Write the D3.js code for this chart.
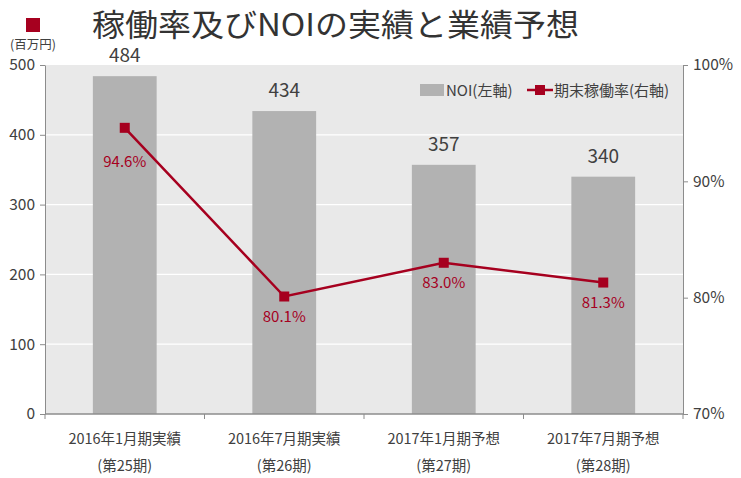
<!DOCTYPE html>
<html><head><meta charset="utf-8">
<script src="https://cdn.jsdelivr.net/npm/d3@7"></script>
<style>body{margin:0;background:#fff;} text{font-family:"Noto Sans CJK JP","Noto Sans",sans-serif;}</style>
</head><body><svg id="c" width="741" height="478"></svg>
<script>
const categories = ["2016年1月期実績","2016年7月期実績","2017年1月期予想","2017年7月期予想"];
const periods = ["(第25期)","(第26期)","(第27期)","(第28期)"];
const noi = [484, 434, 357, 340];
const occupancy = [94.6, 80.1, 83.0, 81.3];
const leftTicks = [0,100,200,300,400,500];
const rightTicks = [70,80,90,100];

const svg = d3.select("#c");
const m = {l:45, r:683, t:65, b:414};
const x = d3.scaleBand().domain(categories).range([m.l, m.r]).paddingInner(0.6).paddingOuter(0.3);
const xb = d3.scaleBand().domain(categories).range([m.l, m.r]);
const yL = d3.scaleLinear().domain([0,500]).range([m.b, m.t]);
const yR = d3.scaleLinear().domain([70,100]).range([m.b, m.t]);
const txt = "#404040", red = "#a6001f";

// title
svg.append("rect").attr("x",26).attr("y",18).attr("width",14).attr("height",14).attr("fill",red);
svg.append("text").attr("x",92).attr("y",36).attr("font-size",31).attr("fill","#333")
  .attr("textLength",487).attr("lengthAdjust","spacingAndGlyphs").text("稼働率及びNOIの実績と業績予想");
svg.append("text").attr("x",10).attr("y",49).attr("font-size",12.5).attr("fill",txt).text("(百万円)");

// plot bg
svg.append("rect").attr("x",m.l).attr("y",m.t).attr("width",m.r-m.l).attr("height",m.b-m.t).attr("fill","#e9e9e9");
// grid
svg.append("g").selectAll("line").data(leftTicks.filter(d=>d>0&&d<500)).join("line")
  .attr("x1",m.l).attr("x2",m.r).attr("y1",d=>yL(d)).attr("y2",d=>yL(d)).attr("stroke","#fff").attr("stroke-width",1.3);

// bars
svg.append("g").selectAll("rect").data(noi).join("rect")
  .attr("x",(d,i)=>x(categories[i])).attr("width",x.bandwidth())
  .attr("y",d=>yL(d)).attr("height",d=>m.b-yL(d)).attr("fill","#b2b2b2");
svg.append("g").selectAll("text").data(noi).join("text")
  .attr("x",(d,i)=>x(categories[i])+x.bandwidth()/2).attr("y",d=>yL(d)-14)
  .attr("text-anchor","middle").attr("font-size",19).attr("font-family","'Noto Sans',sans-serif").attr("fill",txt).text(d=>d);

// axes
const axL = svg.append("g").attr("transform",`translate(${m.l},0)`).call(d3.axisLeft(yL).tickValues(leftTicks).tickSize(5).tickSizeOuter(0));
const axR = svg.append("g").attr("transform",`translate(${m.r},0)`).call(d3.axisRight(yR).tickValues(rightTicks).tickFormat(d=>d+"%").tickSize(5).tickSizeOuter(0));
[axL,axR].forEach(a=>{a.selectAll("path,line").attr("stroke","#8c8c8c");a.selectAll("text").attr("font-size",15.5).attr("fill",txt).attr("font-family","'Noto Sans CJK JP',sans-serif");});
axR.selectAll("text").attr("x",10);
axL.selectAll("text").attr("x",-10);
svg.append("line").attr("x1",m.l).attr("x2",m.r).attr("y1",m.b).attr("y2",m.b).attr("stroke","#8c8c8c").attr("stroke-width",1.5);
// x ticks at band boundaries
const bounds = categories.map(c=>xb(c)).concat([m.r]);
svg.append("g").selectAll("line").data(bounds).join("line")
  .attr("x1",d=>d).attr("x2",d=>d).attr("y1",m.b).attr("y2",m.b+5).attr("stroke","#8c8c8c");
const xl = svg.append("g");
xl.selectAll("text.c").data(categories).join("text").attr("class","c")
  .attr("x",d=>xb(d)+xb.bandwidth()/2).attr("y",444).attr("text-anchor","middle").attr("font-size",14.5).attr("fill",txt).text(d=>d);
xl.selectAll("text.p").data(periods).join("text").attr("class","p")
  .attr("x",(d,i)=>xb(categories[i])+xb.bandwidth()/2).attr("y",471).attr("text-anchor","middle").attr("font-size",14.5).attr("fill",txt).text(d=>d);

// line
const cx = i=>x(categories[i])+x.bandwidth()/2;
svg.append("path").datum(occupancy).attr("fill","none").attr("stroke",red).attr("stroke-width",2.5)
  .attr("d",d3.line().x((d,i)=>cx(i)).y(d=>yR(d)));
svg.append("g").selectAll("rect").data(occupancy).join("rect")
  .attr("x",(d,i)=>cx(i)-5).attr("y",d=>yR(d)-5).attr("width",10).attr("height",10).attr("fill",red);
svg.append("g").selectAll("text").data(occupancy).join("text")
  .attr("x",(d,i)=>cx(i)).attr("y",(d,i)=>yR(d)+(i===0?39:25)).attr("text-anchor","middle").attr("font-size",15).attr("fill",red).text(d=>d.toFixed(1)+"%");

// legend
svg.append("rect").attr("x",420).attr("y",84).attr("width",24).attr("height",12).attr("fill","#b2b2b2");
svg.append("text").attr("x",446).attr("y",96).attr("font-size",15).attr("fill",txt).text("NOI(左軸)");
svg.append("line").attr("x1",527).attr("x2",553).attr("y1",90).attr("y2",90).attr("stroke",red).attr("stroke-width",2.5);
svg.append("rect").attr("x",535).attr("y",85).attr("width",10).attr("height",10).attr("fill",red);
svg.append("text").attr("x",554).attr("y",96).attr("font-size",15).attr("fill",txt).text("期末稼働率(右軸)");
</script></body></html>
